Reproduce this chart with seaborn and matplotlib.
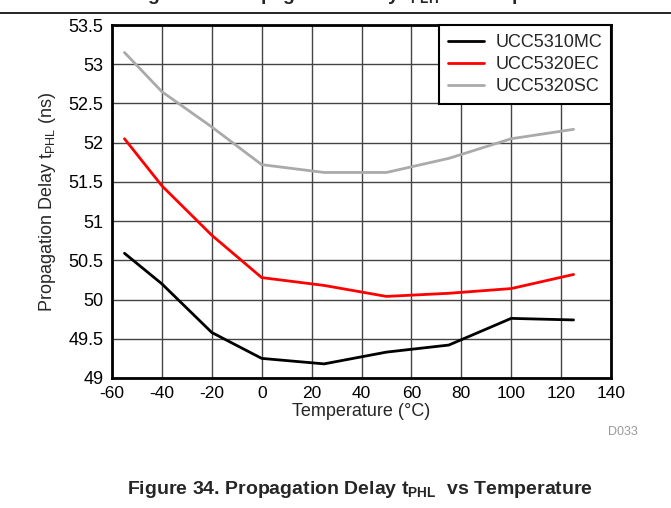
import pandas as pd
import seaborn as sns
import matplotlib.pyplot as plt

temps = [-55, -40, -20, 0, 25, 50, 75, 100, 125]
ucc5310mc = [50.59, 50.20, 49.58, 49.25, 49.18, 49.33, 49.42, 49.76, 49.74]
ucc5320ec = [52.05, 51.45, 50.82, 50.28, 50.18, 50.04, 50.08, 50.14, 50.32]
ucc5320sc = [53.15, 52.65, 52.20, 51.72, 51.62, 51.62, 51.80, 52.05, 52.17]
series_names = ["UCC5310MC", "UCC5320EC", "UCC5320SC"]
series_colors = ["#000000", "#ff0000", "#aaaaaa"]
x_ticks = list(range(-60, 141, 20))
y_ticks = [49, 49.5, 50, 50.5, 51, 51.5, 52, 52.5, 53, 53.5]

df = pd.DataFrame({
    "Temperature": temps * 3,
    "Delay": ucc5310mc + ucc5320ec + ucc5320sc,
    "Device": [n for n in series_names for _ in temps],
})

sns.set_style("white")
plt.rcParams['font.family'] = ['Liberation Sans', 'DejaVu Sans']

fig = plt.figure(figsize=(6.71, 5.08), dpi=100)
ax = fig.add_axes([112 / 671, 1 - 378 / 508, (611 - 112) / 671, (378 - 25) / 508])

sns.lineplot(ax=ax, data=df, x="Temperature", y="Delay", hue="Device",
             palette=dict(zip(series_names, series_colors)), linewidth=2)

ax.set_xlim(-60, 140)
ax.set_ylim(49, 53.5)
ax.set_xticks(x_ticks)
ax.set_yticks(y_ticks)
ax.set_xticklabels([str(t) for t in x_ticks])
ax.set_yticklabels([f"{v:g}" for v in y_ticks])
ax.tick_params(axis="x", length=0, labelsize=12.5, colors="black", pad=6)
ax.tick_params(axis="y", length=0, labelsize=13, colors="black", pad=6)
ax.grid(True, color="#444444", linewidth=1)
for s in ax.spines.values():
    s.set_visible(True)
    s.set_color("black")
    s.set_linewidth(2)

ax.set_xlabel("Temperature (°C)", fontsize=13, labelpad=1)
ax.set_ylabel("Propagation Delay t$_{\\mathregular{PHL}}$ (ns)", fontsize=13, labelpad=8)

leg = ax.legend(loc="upper right", fontsize=13, frameon=True, fancybox=False,
                borderaxespad=0, handlelength=2.0, labelspacing=0.28, borderpad=0.5,
                handletextpad=0.6)
leg.set_title(None)
frame = leg.get_frame()
frame.set_edgecolor("black")
frame.set_linewidth(1.5)
frame.set_alpha(1)

# cut-off title of the previous figure and separator
fig.text(360 / 671, 1.0, "Figure 33. Propagation Delay t$_{\\mathregular{PLH}}$ vs Temperature",
         ha="center", va="baseline", fontsize=14, weight="bold")
fig.add_artist(plt.Line2D([0, 1], [1 - 13 / 508, 1 - 13 / 508], color="black", linewidth=1.2))

fig.text(623 / 671, 1 - 432 / 508, "D033", ha="center", va="center", fontsize=9, color="#999999")
fig.text(360 / 671, 1 - 490 / 508, "Figure 34. Propagation Delay t$_{\\mathregular{PHL}}$  vs Temperature",
         ha="center", va="center", fontsize=14, weight="bold")

fig.savefig("out.png", dpi=100)
